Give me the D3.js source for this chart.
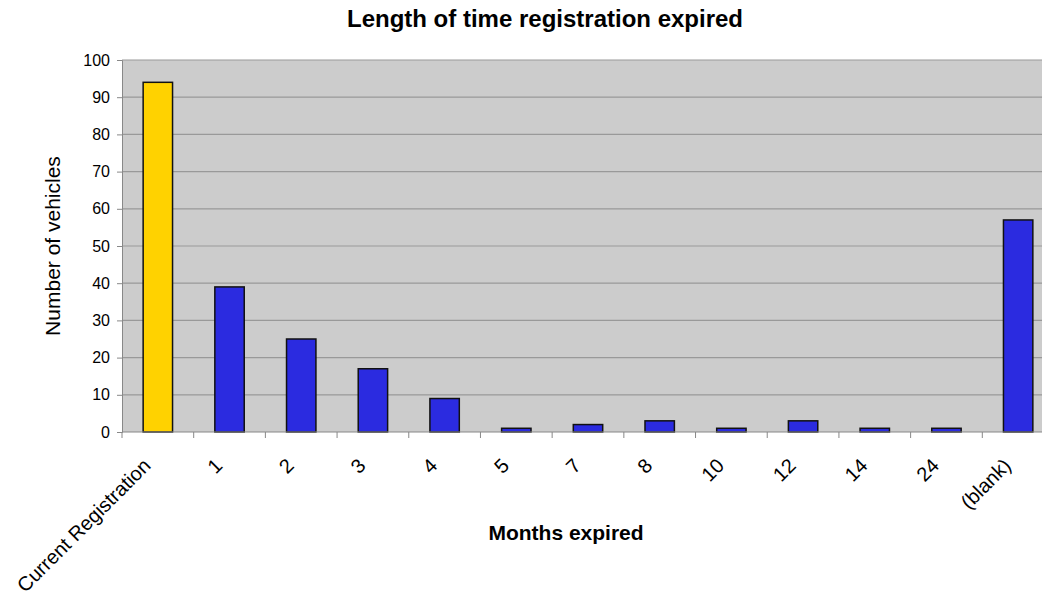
<!DOCTYPE html>
<html><head><meta charset="utf-8">
<script src="https://cdn.jsdelivr.net/npm/d3@7"></script>
<style>body{margin:0;background:#fff}svg{display:block}text{font-family:"Liberation Sans",Arial,sans-serif}</style>
</head><body><svg id="c" width="1042" height="599"></svg>
<script>
const categories = ["Current Registration","1","2","3","4","5","7","8","10","12","14","24","(blank)"];
const values = [94,39,25,17,9,1,2,3,1,3,1,1,57];
const yTicks = [0,10,20,30,40,50,60,70,80,90,100];

const svg = d3.select("#c");
const L=122, T=60, B=432, R=1054;
const x = d3.scaleBand().domain(categories).range([L,R]).paddingInner(0.59).paddingOuter(0.295);
const xb = d3.scaleBand().domain(categories).range([L,R]);
const y = d3.scaleLinear().domain([0,100]).range([B,T]);

svg.append("rect").attr("x",L).attr("y",T).attr("width",R-L).attr("height",B-T).attr("fill","#cccccc");
svg.append("g").selectAll("line").data(yTicks.filter(d=>d>0)).join("line")
  .attr("x1",L).attr("x2",R).attr("y1",d=>y(d)).attr("y2",d=>y(d))
  .attr("stroke","#999").attr("stroke-width",1.2);

// y axis
const ya = svg.append("g").attr("transform",`translate(${L},0)`)
  .call(d3.axisLeft(y).tickValues(yTicks).tickSize(5).tickPadding(7));
ya.select(".domain").attr("stroke","#888");
ya.selectAll(".tick line").attr("stroke","#888");
ya.selectAll("text").attr("font-size",16).attr("fill","#000").attr("font-family","Liberation Sans, Arial, sans-serif");

// bars
svg.append("g").selectAll("rect").data(values).join("rect")
  .attr("x",(d,i)=>x(categories[i])).attr("width",x.bandwidth())
  .attr("y",d=>y(d)).attr("height",d=>B-y(d))
  .attr("fill",(d,i)=>i===0?"#ffd200":"#2b2be0")
  .attr("stroke","#111").attr("stroke-width",1.5);

// x axis
const xg = svg.append("g");
xg.append("line").attr("x1",L).attr("x2",R).attr("y1",B).attr("y2",B).attr("stroke","#888").attr("stroke-width",1.2);
xg.selectAll("line.tk").data(categories).join("line").attr("class","tk")
  .attr("x1",d=>xb(d)).attr("x2",d=>xb(d)).attr("y1",B).attr("y2",B+6).attr("stroke","#888");
xg.selectAll("text").data(categories).join("text")
  .attr("transform",d=>`translate(${xb(d)+xb.bandwidth()/2-6},${B+35}) rotate(-45)`)
  .attr("text-anchor","end").attr("font-size",20).attr("fill","#000").text(d=>d);

svg.append("text").attr("x",545).attr("y",27).attr("text-anchor","middle")
  .attr("font-size",24).attr("font-weight","bold").text("Length of time registration expired");
svg.append("text").attr("x",566).attr("y",540).attr("text-anchor","middle")
  .attr("font-size",21).attr("font-weight","bold").text("Months expired");
svg.append("text").attr("transform","translate(60,246) rotate(-90)").attr("text-anchor","middle")
  .attr("font-size",21).text("Number of vehicles");
</script></body></html>
